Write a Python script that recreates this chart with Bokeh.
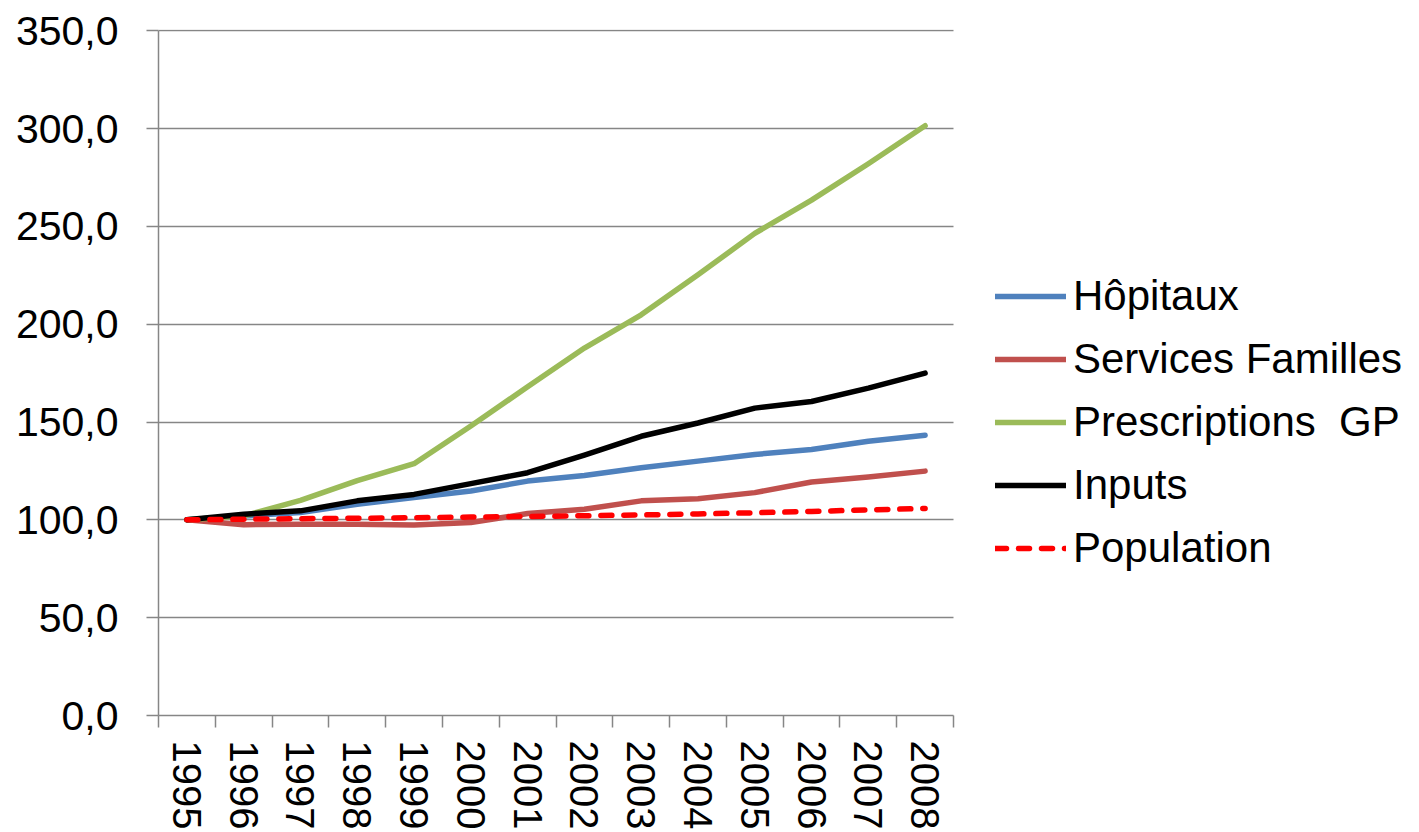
from bokeh.plotting import figure
from bokeh.models import Legend, LegendItem, FixedTicker, Range1d
from bokeh.embed import file_html
from bokeh.resources import INLINE

years = ["1995", "1996", "1997", "1998", "1999", "2000", "2001",
         "2002", "2003", "2004", "2005", "2006", "2007", "2008"]
hopitaux = [100.0, 102.0, 103.7, 108.0, 111.4, 114.7, 119.8, 122.7, 126.6, 130.0, 133.4, 135.9, 140.2, 143.2]
services_familles = [100.0, 97.5, 97.8, 97.8, 97.3, 98.6, 103.2, 105.4, 109.7, 110.8, 113.9, 119.3, 121.9, 124.9]
prescriptions_gp = [100.0, 102.0, 109.9, 120.0, 128.7, 148.0, 168.0, 187.8, 204.8, 225.2, 246.4, 263.4, 282.0, 301.4]
inputs = [100.0, 102.9, 104.6, 109.7, 113.0, 118.5, 124.1, 133.1, 142.7, 149.5, 157.1, 160.5, 167.3, 175.0]
population = [100.0, 100.3, 100.6, 100.8, 101.1, 101.4, 101.7, 102.1, 102.5, 103.0, 103.6, 104.3, 105.1, 105.8]
y_ticks = [0, 50, 100, 150, 200, 250, 300, 350]

FONT = "Liberation Sans"
GRID = "#868686"

n = len(years)
xs = [i + 0.5 for i in range(n)]

# plot area spans 795 px for the 14 categories; frame extends to the right edge
# so that the legend (inside the frame) is not clipped
W, H = 1419, 832
LEFT, TOP, BOTTOM = 158, 29, 117
DATA_W = 795
x_end = n * (W - LEFT) / DATA_W

p = figure(width=W, height=H, output_backend="svg", toolbar_location=None,
           x_range=Range1d(0, x_end), y_range=Range1d(0, 350.6),
           min_border_left=LEFT, min_border_right=0, min_border_top=TOP, min_border_bottom=BOTTOM)
p.outline_line_color = None
p.background_fill_color = "white"

# axes
p.yaxis.bounds = (0, 350)
p.yaxis.ticker = FixedTicker(ticks=y_ticks)
p.yaxis.major_label_overrides = {t: f"{t:.1f}".replace(".", ",") for t in y_ticks}
p.yaxis.major_label_text_font = FONT
p.yaxis.major_label_text_font_size = "41px"
p.yaxis.major_label_text_color = "black"
p.yaxis.axis_line_color = GRID
p.yaxis.axis_line_width = 1.5
p.yaxis.major_tick_line_color = GRID
p.yaxis.major_tick_line_width = 1.5
p.yaxis.major_tick_out = 12
p.yaxis.major_tick_in = 0
p.yaxis.minor_tick_line_color = None
p.yaxis.major_label_standoff = 28

p.xaxis.bounds = (0, n)
p.xaxis.ticker = FixedTicker(ticks=xs, minor_ticks=list(range(n + 1)))
p.xaxis.major_label_overrides = {x: y for x, y in zip(xs, years)}
p.xaxis.major_label_orientation = "vertical"
p.xaxis.major_label_text_font = FONT
p.xaxis.major_label_text_font_size = "40px"
p.xaxis.major_label_text_color = "black"
p.xaxis.axis_line_color = GRID
p.xaxis.axis_line_width = 1.5
p.xaxis.major_tick_line_color = None
p.xaxis.major_tick_out = 0
p.xaxis.major_tick_in = 0
p.xaxis.minor_tick_line_color = GRID
p.xaxis.minor_tick_line_width = 1.5
p.xaxis.minor_tick_out = 12
p.xaxis.minor_tick_in = 0
p.xaxis.major_label_standoff = 13

p.xgrid.grid_line_color = None
p.ygrid.grid_line_color = GRID
p.ygrid.grid_line_width = 1.5
p.ygrid.bounds = (0, 350)
p.ygrid.cross_bounds = (0, n)

series = [
    ("Hôpitaux", hopitaux, "#4F81BD", 5.5, "solid"),
    ("Services Familles", services_familles, "#C0504D", 5.5, "solid"),
    ("Prescriptions  GP", prescriptions_gp, "#9BBB59", 5.5, "solid"),
    ("Inputs", inputs, "#000000", 5.5, "solid"),
    ("Population", population, "#FF0000", 5.5, "11 12"),
]
items = []
for name, vals, color, w, dash in series:
    r = p.line(xs, vals, line_color=color, line_width=w, line_dash=dash,
               line_join="round", line_cap="round")
    items.append(LegendItem(label=name, renderers=[r]))

legend = Legend(items=items, location=(837, 143))
legend.label_text_font = FONT
legend.label_text_font_size = "42px"
legend.label_text_color = "black"
legend.glyph_width = 71
legend.glyph_height = 40
legend.label_height = 40
legend.label_standoff = 7
legend.spacing = 15
legend.padding = 0
legend.margin = 0
legend.border_line_color = None
legend.background_fill_alpha = 0
p.add_layout(legend)

open("out.html", "w").write(file_html(p, INLINE))
